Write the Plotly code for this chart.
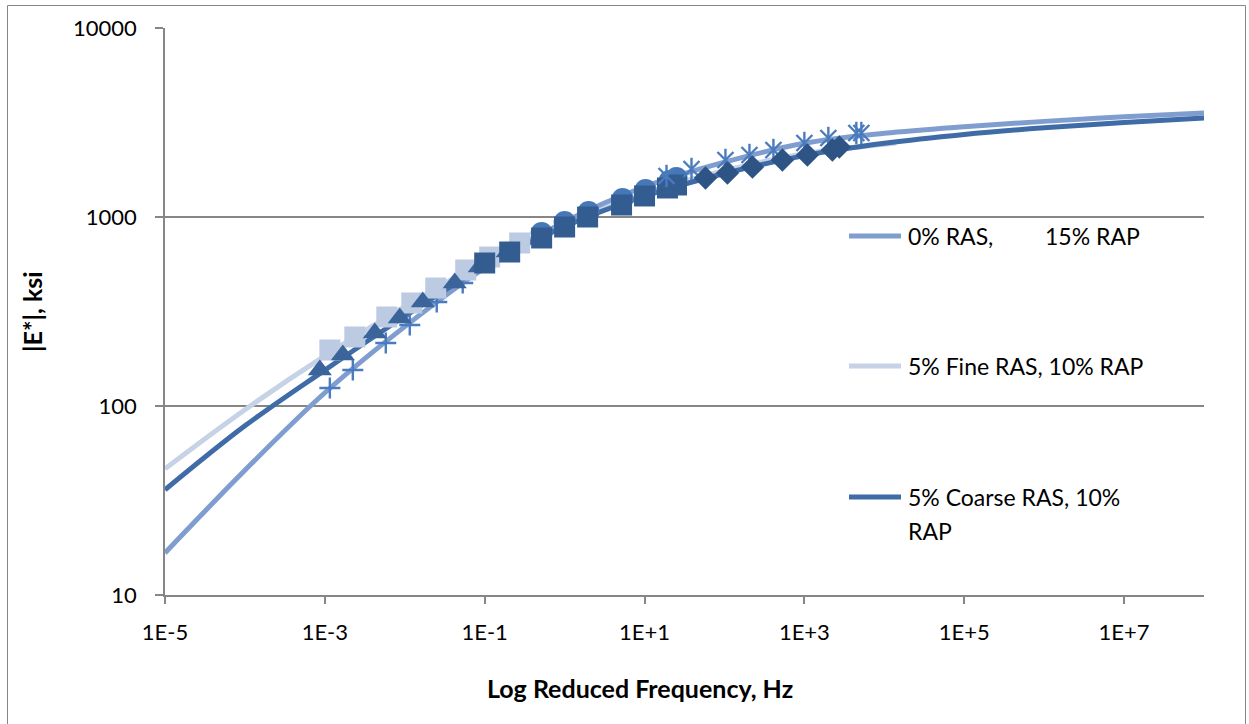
import plotly.graph_objects as go

# ---------------- data ----------------
# master curves
curve_freq = [1e-5, 1e-4, 1e-3, 1e-2, 1e-1, 1, 10, 100, 1e3, 1e4, 1e5, 1e6, 1e7, 1e8]
curve_0ras = [16.7, 45.7, 117.5, 263, 537, 944, 1445, 1950, 2455, 2773, 3006, 3206, 3388, 3548]
curve_coarse = [36.0, 78.5, 154.9, 298.5, 549.5, 891, 1288, 1698, 2113, 2455, 2735, 2965, 3162, 3342]
curve_fine_freq = [1e-5, 1e-4, 1e-3, 1e-2, 1e-1, 1, 10, 100, 1e3, 1e4, 1.41e4]
curve_fine = [46.5, 95.5, 184, 335, 582, 923, 1334, 1758, 2163, 2427, 2466]

# measured points, 0% RAS 15% RAP
plus_f = [0.001155, 0.002239, 0.005786, 0.01155, 0.02512, 0.05309]
plus_E = [124.5, 155.1, 215.4, 268.3, 355.1, 447.5]
circ_f = [0.5158, 1.0, 1.995, 5.309, 10.29, 20.54, 25.12]
circ_E = [822.9, 940.8, 1063, 1245, 1390, 1551, 1608]
star_f = [18.84, 38.68, 102.9, 205.4, 409.8, 1000, 1995, 4467, 5158]
star_E = [1648, 1795, 2003, 2128, 2262, 2464, 2618, 2783, 2783]

# measured points, 5% Fine RAS 10% RAP
lsq_f = [0.001155, 0.002371, 0.005957, 0.01224, 0.02441, 0.05786, 0.1155, 0.2738]
lsq_E = [197.8, 231.8, 295.8, 350.8, 421.0, 524.4, 614.3, 728.6]

# measured points, 5% Coarse RAS 10% RAP
tri_f = [0.000866, 0.001679, 0.004217, 0.00866, 0.01679, 0.04217, 0.0866, 0.1939]
tri_E = [155.1, 186.1, 243.3, 292.2, 355.1, 447.5, 543.8, 652.8]
dsq_f = [0.1, 0.2054, 0.5158, 1.0, 1.939, 5.158, 10.0, 19.39, 25.12]
dsq_E = [571, 652.8, 774.4, 885.3, 1000, 1157, 1292, 1424, 1477]
dia_f = [57.88, 109.0, 223.9, 530.9, 1090, 2239, 2738]
dia_E = [1608, 1710, 1839, 2003, 2128, 2262, 2346]

legend_names = ["0% RAS,", "15% RAP", "5% Fine RAS, 10% RAP", "5% Coarse RAS, 10%", "RAP"]
x_tickvals = [1e-5, 1e-3, 1e-1, 1e1, 1e3, 1e5, 1e7]
x_ticktext = ["1E-5", "1E-3", "1E-1", "1E+1", "1E+3", "1E+5", "1E+7"]
y_tickvals = [10, 100, 1000, 10000]
y_ticktext = ["10", "100", "1000", "10000"]

# ---------------- styles ----------------
C_MID = "#7f9ecf"
C_LIGHT = "#c6d2e6"
C_DARK = "#3f6ca6"
FONT = "Lato"
GRID = "#868686"

fig = go.Figure()

def line(x, y, color):
    fig.add_trace(go.Scatter(x=x, y=y, mode="lines", showlegend=False, hoverinfo="skip",
                             line=dict(color=color, width=5, shape="spline", smoothing=1.0)))

line(curve_fine_freq, curve_fine, C_LIGHT)
line(curve_freq, curve_0ras, C_MID)
line(curve_freq, curve_coarse, C_DARK)

def pts(x, y, symbol, size, color, lw=0, lc=None):
    fig.add_trace(go.Scatter(x=x, y=y, mode="markers", showlegend=False, hoverinfo="skip",
                             marker=dict(symbol=symbol, size=size, color=color,
                                         line=dict(width=lw, color=lc or color))))

pts(plus_f, plus_E, "cross-thin", 15, "#4a7bc0", 2.4, "#4a7bc0")
pts(lsq_f, lsq_E, "square", 21, "#bccbe2")
pts(tri_f, tri_E, "triangle-up", 21, "#3b649a")
pts(circ_f, circ_E, "circle", 22, "#4677b8")
pts(dsq_f, dsq_E, "square", 21, "#335d90")
pts(star_f, star_E, "x-thin", 16, "#4a7bbd", 2.4, "#4a7bbd")
pts(star_f, star_E, "line-ns", 16, "#4a7bbd", 2.4, "#4a7bbd")
pts(dia_f, dia_E, "diamond", 18, "#2e5385")

# plot area in pixels: left 165, right 1204, top 28, bottom 595
W, H = 1249, 724
L, R, T, B = 165, 1204, 28, 595
def px(xp):
    return (xp - L) / (R - L)
def py(yp):
    return (B - yp) / (B - T)

shapes = []
annotations = []
# outer chart border
shapes.append(dict(type="rect", xref="paper", yref="paper", x0=px(7.5), x1=px(1245.5),
                   y0=py(726), y1=py(5.5), line=dict(color=GRID, width=1), layer="below"))

# legend
leg = [(236, C_MID), (366, C_LIGHT), (497, C_DARK)]
for yy, col in leg:
    shapes.append(dict(type="line", xref="paper", yref="paper", x0=px(849), x1=px(901),
                       y0=py(yy), y1=py(yy), line=dict(color=col, width=5)))
leg_text = [(906, 236, legend_names[0]), (1043, 236, legend_names[1]),
            (906, 366, legend_names[2]), (906, 497, legend_names[3]), (906, 531, legend_names[4])]
for xx, yy, t in leg_text:
    annotations.append(dict(x=px(xx), y=py(yy), xref="paper", yref="paper", text=t,
                            showarrow=False, xanchor="left", yanchor="middle",
                            font=dict(family=FONT, size=23, color="black")))

# axis titles
annotations.append(dict(x=px(640), y=py(688), xref="paper", yref="paper",
                        text="<b>Log Reduced Frequency, Hz</b>", showarrow=False,
                        xanchor="center", yanchor="middle",
                        font=dict(family=FONT, size=25, color="black")))
annotations.append(dict(x=px(32), y=py(312), xref="paper", yref="paper",
                        text="<b>|E*|, ksi</b>", showarrow=False, textangle=-90,
                        xanchor="center", yanchor="middle",
                        font=dict(family=FONT, size=25, color="black")))

fig.update_layout(
    width=W, height=H,
    margin=dict(l=L, r=W - R, t=T, b=H - B, pad=0),
    paper_bgcolor="white", plot_bgcolor="white",
    shapes=shapes, annotations=annotations, showlegend=False,
    font=dict(family=FONT, size=22, color="black"),
    xaxis=dict(type="log", range=[-5, 8], tickvals=x_tickvals, ticktext=x_ticktext,
               showgrid=False, zeroline=False, showline=True, linecolor=GRID, linewidth=1.5,
               ticks="outside", ticklen=7, tickcolor=GRID, tickwidth=1.5,
               ticklabelstandoff=10, tickfont=dict(family=FONT, size=22, color="black")),
    yaxis=dict(type="log", range=[1, 4], tickvals=y_tickvals, ticktext=y_ticktext,
               showgrid=True, gridcolor=GRID, gridwidth=1.5, zeroline=False,
               showline=True, linecolor=GRID, linewidth=1.5,
               ticks="outside", ticklen=8, tickcolor=GRID, tickwidth=1.5,
               ticklabelstandoff=14, tickfont=dict(family=FONT, size=22, color="black")),
)

fig.write_html("out.html")
